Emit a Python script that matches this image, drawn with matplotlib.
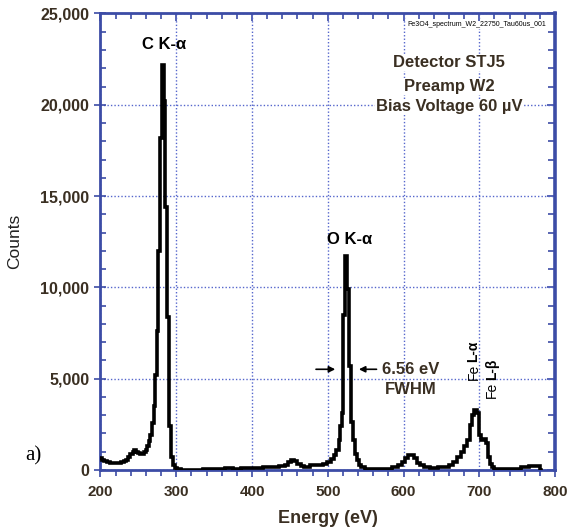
import matplotlib
matplotlib.use("Agg")
import matplotlib.pyplot as plt
from matplotlib.ticker import MultipleLocator, FuncFormatter
import numpy as np

plt.rcParams['font.family'] = ['Liberation Sans', 'DejaVu Sans']

# spectrum (bin centre in eV, counts)
energy = [200, 203, 206, 210, 215, 220, 225, 229, 232, 235, 238, 241, 243.5, 246,
          248.5, 251, 253.5, 256, 258.5, 261, 263, 265, 267, 269, 271, 273, 275,
          277.3, 279.6, 282, 284.4, 286.8, 289.2, 291.6, 294, 296.4, 299, 303, 310,
          320, 330, 340, 350, 360, 370, 380, 390, 400, 410, 420, 430, 440, 446, 450,
          454, 458, 462, 466, 472, 480, 490, 497, 502, 506, 510, 513, 515.5, 517.5,
          519.5, 522, 524.5, 527, 529.5, 532, 534.5, 537, 539.5, 542, 546, 552, 560,
          570, 580, 590, 596, 600, 604, 608, 612, 616, 620, 624, 630, 640, 650, 657,
          663, 668, 673, 678, 682, 686, 689, 692, 695, 698, 701, 704, 707, 710, 712.5,
          715, 718, 722, 730, 740, 750, 760, 770, 778, 782]
counts = [650, 560, 480, 420, 380, 370, 370, 420, 480, 560, 700, 850, 1000, 1100,
          1000, 930, 900, 900, 960, 1100, 1300, 1600, 1900, 2600, 3500, 5200, 7600,
          12000, 18200, 22200, 20200, 14400, 8400, 2400, 700, 250, 100, 60, 20,
          0, 0, 30, 60, 80, 100, 80, 100, 100, 130, 180, 180, 200, 280, 450,
          550, 500, 320, 220, 180, 250, 300, 350, 450, 600, 800, 1100, 1650, 2400,
          3100, 8500, 11700, 9900, 5700, 2650, 1640, 900, 550, 270, 150, 80, 60,
          60, 80, 180, 270, 450, 650, 800, 820, 650, 400, 250, 150, 120, 150, 180,
          300, 450, 700, 1000, 1300, 1640, 2460, 3000, 3300, 3100, 1900, 1640, 1700, 1500, 730,
          350, 180, 80, 50, 40, 50, 150, 200, 200, 0]

x_ticks = [200, 300, 400, 500, 600, 700, 800]
y_ticks = [0, 5000, 10000, 15000, 20000, 25000]

blue = '#3c4ca6'
label_col = '#3a2f22'

fig = plt.figure(figsize=(5.70, 5.31), dpi=100)
ax = fig.add_axes([0.1763, 0.1149, 0.7975, 0.8597])

ax.plot(energy, counts, color='black', lw=2.6, drawstyle='steps-mid',
        solid_joinstyle='miter', zorder=3)

ax.set_xlim(200, 800)
ax.set_ylim(0, 25000)
ax.set_xticks(x_ticks)
ax.set_yticks(y_ticks)
ax.xaxis.set_minor_locator(MultipleLocator(20))
ax.yaxis.set_minor_locator(MultipleLocator(1000))
ax.yaxis.set_major_formatter(FuncFormatter(lambda v, p: f'{int(v):,}'))
ax.grid(True, which='major', color='#5566cc', ls=(0, (1, 1.5)), lw=1.0)

for s in ax.spines.values():
    s.set_color(blue)
    s.set_linewidth(2)
ax.spines['right'].set_linewidth(2.6)

ax.tick_params(axis='x', which='both', direction='out', color=blue, width=1.2,
               labelcolor=label_col, labelsize=11, pad=6)
ax.tick_params(axis='x', which='major', length=5)
ax.tick_params(axis='x', which='minor', length=4)
ax.tick_params(axis='y', which='major', direction='inout', length=8, color=blue,
               width=1.2, labelcolor=label_col, labelsize=11.5, pad=4)
ax.tick_params(axis='y', which='minor', direction='in', length=4, color=blue, width=1.2)
for t in ax.get_xticklabels() + ax.get_yticklabels():
    t.set_fontweight('bold')

# inward ticks on top and right
top = ax.secondary_xaxis('top')
top.set_xticks(x_ticks)
top.xaxis.set_minor_locator(MultipleLocator(20))
top.tick_params(which='both', direction='in', color=blue, width=1.2, labeltop=False)
top.tick_params(which='major', length=6)
top.tick_params(which='minor', length=4)
top.spines['top'].set_visible(False)
right = ax.secondary_yaxis('right')
right.set_yticks(y_ticks)
right.yaxis.set_minor_locator(MultipleLocator(1000))
right.tick_params(which='both', direction='in', color=blue, width=1.2, labelright=False)
right.tick_params(which='major', length=6)
right.tick_params(which='minor', length=5)
right.spines['right'].set_visible(False)

ax.set_xlabel('Energy (eV)', fontsize=13, fontweight='bold', color=label_col, labelpad=8)
ax.set_ylabel('Counts', fontsize=12.5, color='#222222', labelpad=13)

# peak labels
ax.text(284.4, 23275, 'C K-α', fontsize=12, fontweight='bold', ha='center', va='center')
ax.text(528.8, 12634, 'O K-α', fontsize=12, fontweight='bold', ha='center', va='center')
ax.text(692.4, 4929, 'Fe', fontsize=10, rotation=90, ha='center', va='bottom')
ax.text(692.4, 5915, 'L-α', fontsize=10, fontweight='bold', rotation=90, ha='center', va='bottom')
ax.text(716.4, 3943, 'Fe', fontsize=10, rotation=90, ha='center', va='bottom')
ax.text(716.4, 4929, 'L-β', fontsize=10, fontweight='bold', rotation=90, ha='center', va='bottom')

# FWHM marker
arrow = dict(arrowstyle='-|>', color='black', lw=1.2, mutation_scale=9)
ax.annotate('', xy=(513.5, 5515), xytext=(480.8, 5515), arrowprops=arrow)
ax.annotate('', xy=(537.4, 5515), xytext=(568, 5515), arrowprops=arrow)
ax.text(609, 5515, '6.56 eV', fontsize=12, fontweight='bold', ha='center', va='center',
        color=label_col)
ax.text(609, 4381, 'FWHM', fontsize=12, fontweight='bold', ha='center', va='center',
        color=label_col)

# info box text
for yy, s in [(0.8916, 'Detector STJ5'), (0.8397, 'Preamp W2'), (0.7958, 'Bias Voltage 60 µV')]:
    ax.text(0.7675, yy, s, transform=ax.transAxes, fontsize=12, fontweight='bold',
            ha='center', va='center', color=label_col,
            bbox=dict(facecolor='white', edgecolor='none', pad=0.5))
ax.text(0.981, 0.975, 'Fe3O4_spectrum_W2_22750_Tau60us_001', transform=ax.transAxes,
        fontsize=5, ha='right', va='center',
        bbox=dict(facecolor='white', edgecolor='none', pad=0.3))

fig.text(0.058, 0.141, 'a)', fontsize=15, family='Liberation Serif', ha='center', va='center')

fig.savefig('out.png', dpi=100)
